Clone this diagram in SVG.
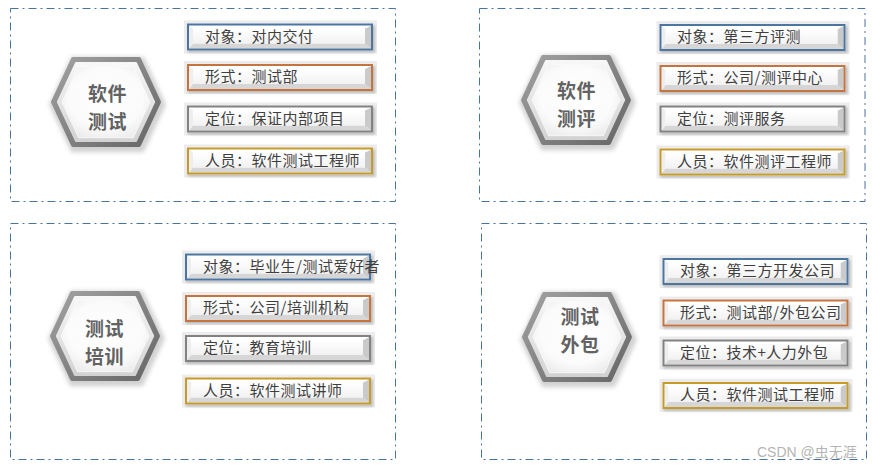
<svg xmlns="http://www.w3.org/2000/svg" xmlns:xlink="http://www.w3.org/1999/xlink" width="872" height="469" viewBox="0 0 872 469">
<style>
.panel{fill:none;stroke:#4a74a0;stroke-width:1;stroke-dasharray:8 4 2 4}
.bd{fill:none;stroke-width:2}
.blue{stroke:#4c76a2}
.orange{stroke:#c4743e}
.gray{stroke:#828282}
.gold{stroke:#c59c27}
.bt{font-family:"Noto Sans CJK SC","Noto Sans",sans-serif;font-size:15px;letter-spacing:0.5px;fill:#3f3f3f}
.ht{font-family:"Noto Sans CJK SC","Noto Sans",sans-serif;font-size:19px;letter-spacing:0.5px;font-weight:bold;fill:#626262;text-anchor:middle}
.wm{font-family:"Liberation Sans","Noto Sans CJK SC",sans-serif;font-size:14px;fill:#b4b4b4}
</style>
<defs>
<filter id="blur1" x="-10%" y="-40%" width="120%" height="180%"><feGaussianBlur stdDeviation="1.2"/></filter>
<filter id="blur2" x="-20%" y="-20%" width="140%" height="140%"><feGaussianBlur stdDeviation="2"/></filter>
<linearGradient id="faceG" x1="0" y1="0" x2="0" y2="1"><stop offset="0" stop-color="#ffffff"/><stop offset="1" stop-color="#f2f2f2"/></linearGradient>
<linearGradient id="ringG" x1="0" y1="0" x2="1" y2="1"><stop offset="0" stop-color="#a2a2a2"/><stop offset="1" stop-color="#666666"/></linearGradient>
<linearGradient id="bevelG" x1="0" y1="0" x2="0" y2="1"><stop offset="0" stop-color="#f7f7f7"/><stop offset="1" stop-color="#d2d2d2"/></linearGradient>
<radialGradient id="faceR" cx="0.5" cy="0.45" r="0.6"><stop offset="0" stop-color="#ffffff"/><stop offset="0.7" stop-color="#fbfbfb"/><stop offset="1" stop-color="#ececec"/></radialGradient>
<path id="hexP" d="M-53,0 L-33,-43 L33,-43 L53,0 L33,43 L-33,43 Z"/>
<g id="hexBase">
<use xlink:href="#hexP" transform="translate(1.5,2.5) scale(1.06)" fill="#d2d2d2" stroke="#d2d2d2" stroke-width="4" stroke-linejoin="round" filter="url(#blur2)"/>
<use xlink:href="#hexP" fill="url(#ringG)" stroke="url(#ringG)" stroke-width="4" stroke-linejoin="round"/>
<use xlink:href="#hexP" transform="scale(0.91)" fill="url(#bevelG)" stroke="url(#bevelG)" stroke-width="2" stroke-linejoin="round"/>
<use xlink:href="#hexP" transform="scale(0.83)" fill="url(#faceR)" stroke="#fafafa" stroke-width="1" stroke-linejoin="round"/>
</g>
<g id="boxBase">
<rect x="-3" y="-3" width="193" height="33" fill="#ececec"/>
<rect x="1" y="2" width="187" height="27" fill="#bdbdbd" filter="url(#blur1)"/>
<rect x="0" y="0" width="186" height="27" fill="#fafafa"/>
<polygon points="2,25 184,25 178,20 6,20" fill="#d6d6d6"/>
<polygon points="184,2 184,25 178,20 178,5" fill="#cacaca"/>
<polygon points="2,2 184,2 178,5 6,5" fill="#ffffff"/>
<polygon points="2,2 2,25 6,20 6,5" fill="#eeeeee"/>
<rect x="6" y="5" width="172" height="15" fill="url(#faceG)"/>
</g>
</defs>
<rect width="872" height="469" fill="#ffffff"/>

<g id="panels">
<rect class="panel" x="10.5" y="8.5" width="385" height="193"/>
<rect class="panel" x="479.5" y="8.5" width="385.5" height="193"/>
<rect class="panel" x="10.5" y="223.5" width="385" height="236"/>
<rect class="panel" x="481.5" y="223.5" width="385" height="236"/>
</g>

<g id="connectors"/>

<g id="node-rjcs">
<use xlink:href="#hexBase" transform="translate(106,102)"/>
<text class="ht"><tspan x="107.5" y="101.4">软件</tspan><tspan x="107.5" y="129.1">测试</tspan></text>
</g>
<g id="node-rjcs-items">
<use xlink:href="#boxBase" x="187" y="23.5"/><rect class="bd blue" x="188" y="24.5" width="184" height="25"/>
<text class="bt" x="205" y="41.8">对象：对内交付</text>
<use xlink:href="#boxBase" x="187" y="64"/><rect class="bd orange" x="188" y="65" width="184" height="25"/>
<text class="bt" x="205" y="82.3">形式：测试部</text>
<use xlink:href="#boxBase" x="187" y="105.5"/><rect class="bd gray" x="188" y="106.5" width="184" height="25"/>
<text class="bt" x="205" y="123.8">定位：保证内部项目</text>
<use xlink:href="#boxBase" x="187" y="147.5"/><rect class="bd gold" x="188" y="148.5" width="184" height="25"/>
<text class="bt" x="205" y="165.8">人员：软件测试工程师</text>
</g>

<g id="node-rjcp">
<use xlink:href="#hexBase" transform="translate(576,100)"/>
<text class="ht"><tspan x="576.5" y="98.1">软件</tspan><tspan x="576.5" y="125.8">测评</tspan></text>
</g>
<g id="node-rjcp-items">
<use xlink:href="#boxBase" x="659.5" y="24"/><rect class="bd blue" x="660.5" y="25" width="184" height="25"/>
<text class="bt" x="677" y="42.3">对象：第三方评测</text>
<use xlink:href="#boxBase" x="659.5" y="65"/><rect class="bd orange" x="660.5" y="66" width="184" height="25"/>
<text class="bt" x="677" y="83.3">形式：公司/测评中心</text>
<use xlink:href="#boxBase" x="659.5" y="105.5"/><rect class="bd gray" x="660.5" y="106.5" width="184" height="25"/>
<text class="bt" x="677" y="123.8">定位：测评服务</text>
<use xlink:href="#boxBase" x="659.5" y="148.5"/><rect class="bd gold" x="660.5" y="149.5" width="184" height="25"/>
<text class="bt" x="677" y="166.8">人员：软件测评工程师</text>
</g>

<g id="node-cspx">
<use xlink:href="#hexBase" transform="translate(105,336)"/>
<text class="ht"><tspan x="104.5" y="336.3">测试</tspan><tspan x="104.5" y="364">培训</tspan></text>
</g>
<g id="node-cspx-items">
<use xlink:href="#boxBase" x="185" y="253.5"/><rect class="bd blue" x="186" y="254.5" width="184" height="25"/>
<text class="bt" x="203" y="271.8">对象：毕业生/测试爱好者</text>
<use xlink:href="#boxBase" x="185" y="295"/><rect class="bd orange" x="186" y="296" width="184" height="25"/>
<text class="bt" x="203" y="313.3">形式：公司/培训机构</text>
<use xlink:href="#boxBase" x="185" y="335"/><rect class="bd gray" x="186" y="336" width="184" height="25"/>
<text class="bt" x="203" y="353.3">定位：教育培训</text>
<use xlink:href="#boxBase" x="185" y="377.5"/><rect class="bd gold" x="186" y="378.5" width="184" height="25"/>
<text class="bt" x="203" y="395.8">人员：软件测试讲师</text>
</g>

<g id="node-cswb">
<use xlink:href="#hexBase" transform="translate(577,337)"/>
<text class="ht"><tspan x="580" y="324">测试</tspan><tspan x="580" y="351.7">外包</tspan></text>
</g>
<g id="node-cswb-items">
<use xlink:href="#boxBase" x="662.5" y="258"/><rect class="bd blue" x="663.5" y="259" width="184" height="25"/>
<text class="bt" x="680" y="276.3">对象：第三方开发公司</text>
<use xlink:href="#boxBase" x="662.5" y="299.5"/><rect class="bd orange" x="663.5" y="300.5" width="184" height="25"/>
<text class="bt" x="680" y="317.8">形式：测试部/外包公司</text>
<use xlink:href="#boxBase" x="662.5" y="339.5"/><rect class="bd gray" x="663.5" y="340.5" width="184" height="25"/>
<text class="bt" x="680" y="357.8">定位：技术+人力外包</text>
<use xlink:href="#boxBase" x="662.5" y="382"/><rect class="bd gold" x="663.5" y="383" width="184" height="25"/>
<text class="bt" x="680" y="400.3">人员：软件测试工程师</text>
</g>

<text class="wm" x="757" y="457">CSDN @虫无涯</text>
</svg>
